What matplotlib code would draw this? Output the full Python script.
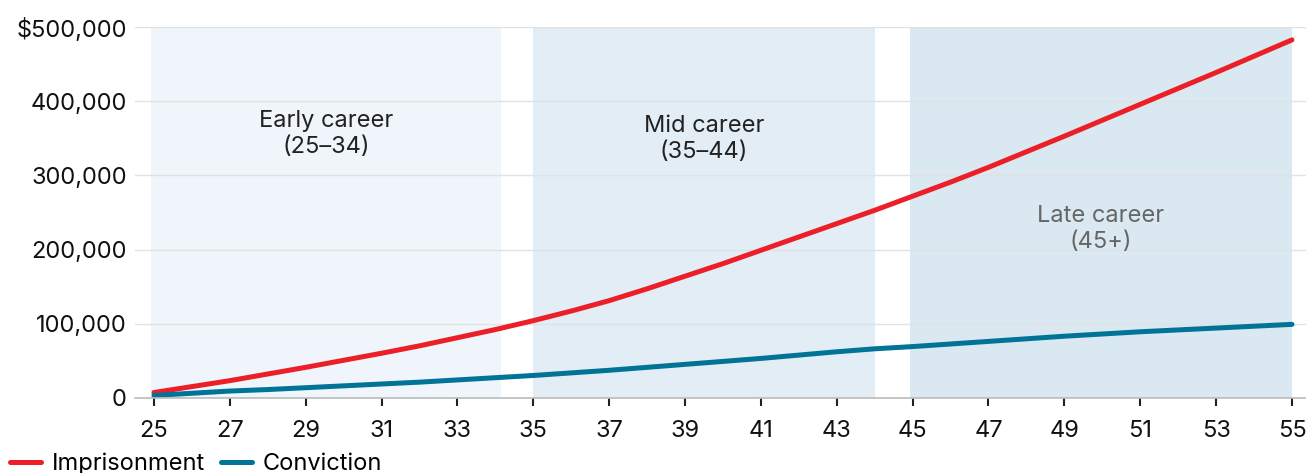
import matplotlib
matplotlib.use('agg')
import matplotlib.pyplot as plt
from matplotlib.ticker import FuncFormatter

# ages on the x axis
ages = list(range(25, 56))

# cumulative lost earnings, dollars
imprisonment = [7000, 15000, 23000, 32000, 41000, 50500, 60000, 70000, 81000, 92000,
                104000, 117000, 131000, 147000, 164000, 181000, 199000, 217000, 235000, 253000,
                272000, 291000, 311000, 332000, 353000, 374500, 396000, 417500, 439000, 461000,
                483000]
conviction = [3000, 6000, 9000, 11000, 13500, 16000, 18500, 21000, 24000, 27000,
              30000, 33500, 37000, 41000, 45000, 49000, 53000, 57500, 62000, 66000,
              69000, 72500, 76000, 79500, 83000, 86000, 89000, 91500, 94000, 96500,
              99000]

# career stages
stages = [(24.92, 34.15, 'Early career\n(25–34)'),
          (35.0, 44.0, 'Mid career\n(35–44)'),
          (44.93, 55.0, 'Late career\n(45+)')]
stage_colors = ['#EFF5FA', '#E2EDF5', '#D9E8F1']
stage_text_colors = ['#222222', '#222222', '#666666']
stage_label_y = [356000, 349000, 228000]

x_ticks = list(range(25, 56, 2))
y_ticks = [0, 100000, 200000, 300000, 400000, 500000]

RED = '#EC1F28'
BLUE = '#007396'
FS = 17

plt.rcParams['font.family'] = ['Inter', 'DejaVu Sans']

fig = plt.figure(figsize=(13.06, 4.73), dpi=100)
ax = fig.add_axes([135 / 1306, 75.3 / 473, 1 - 135 / 1306, 370.4 / 473])

for (start, end, label), col, tcol, ly in zip(stages, stage_colors, stage_text_colors, stage_label_y):
  ax.axvspan(start, end, color=col, lw=0, zorder=0)
  ax.text((start + end) / 2, ly, label, ha='center', va='center', fontsize=FS,
          color=tcol, linespacing=1.25, zorder=3)

for yv in y_ticks[1:]:
  ax.axhline(yv, color='#E2E2E2', lw=1, zorder=1)

ax.plot(ages, imprisonment, color=RED, lw=3.6, solid_capstyle='round', zorder=4, label='Imprisonment')
ax.plot(ages, conviction, color=BLUE, lw=3.6, solid_capstyle='round', zorder=4, label='Conviction')

ax.set_xlim(24.5, 55.37)
ax.set_ylim(0, 500000)

ax.set_xticks(x_ticks)
ax.set_yticks(y_ticks)
ax.yaxis.set_major_formatter(FuncFormatter(lambda v, p: '$500,000' if v == 500000 else f'{int(v):,}'))

for s in ['top', 'right', 'left']:
  ax.spines[s].set_visible(False)
ax.spines['bottom'].set_color('#BBBBBB')
ax.spines['bottom'].set_linewidth(1.2)
ax.spines['bottom'].set_zorder(5)

ax.tick_params(axis='x', length=6, width=1.5, color='#222222', pad=10, labelsize=FS, labelcolor='#111111')
ax.tick_params(axis='y', length=0, pad=6, labelsize=FS, labelcolor='#111111')

fig.legend(loc='center left', bbox_to_anchor=(0.006, 9 / 473), ncol=2, frameon=False,
           fontsize=FS, handlelength=1.3, handletextpad=0.45, columnspacing=0.7,
           borderaxespad=0, borderpad=0.1)

fig.savefig('out.png', dpi=100)
